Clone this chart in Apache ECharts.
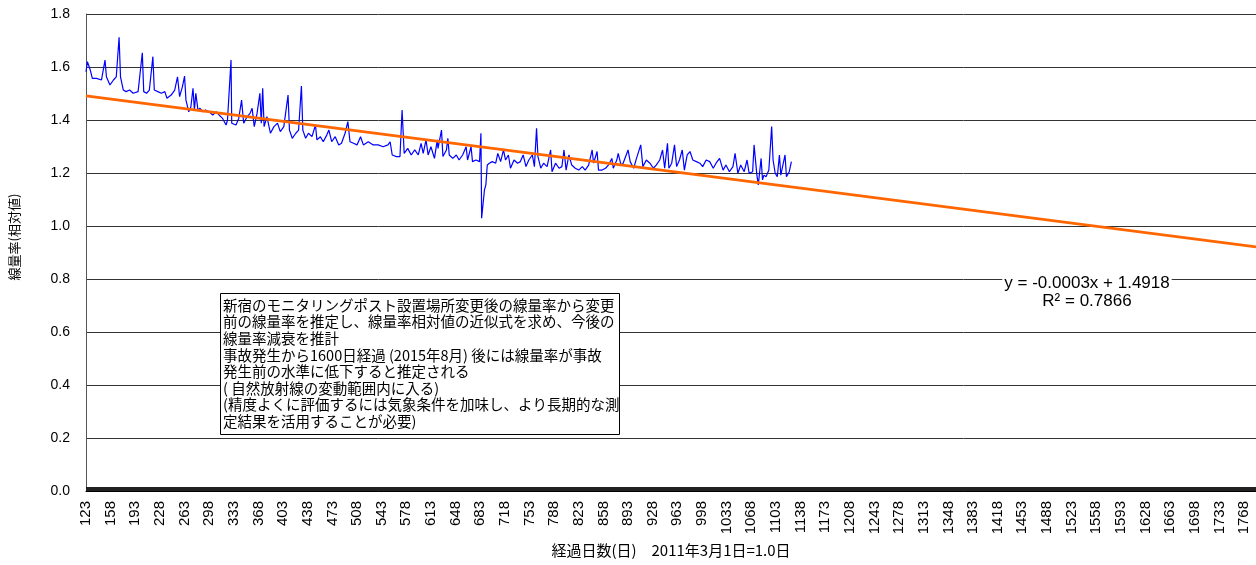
<!DOCTYPE html>
<html>
<head>
<meta charset="utf-8">
<script src="https://cdn.jsdelivr.net/npm/echarts@6/dist/echarts.min.js"></script>
<style>
  html, body { margin: 0; padding: 0; background: #fff; }
  #chart { width: 1256px; height: 565px; }
</style>
</head>
<body>
<div id="chart"></div>
<script>
// Elapsed-day category range (day 1 = 2011-03-01) and label spacing
const FIRST_DAY = 123;
const LAST_DAY = 1785;
const LABEL_STEP = 35;

// Relative dose-rate readings (day, value)
const days = [123,125,129,132,138,145,150,152,157,162,166,170,172,176,180,185,190,197,203,205,
  209,213,218,220,225,230,235,238,244,249,253,256,260,263,265,269,272,275,277,279,
  282,285,289,293,298,303,308,312,317,322,324,329,330,336,340,344,347,352,356,359,
  362,366,370,372,374,376,380,385,390,395,399,404,410,412,416,421,425,429,431,435,
  439,444,449,451,456,460,465,468,472,477,482,486,491,495,498,503,508,513,517,524,
  531,538,545,552,555,558,564,569,572,575,580,585,590,595,599,602,606,609,613,618,
  622,623,628,630,635,637,639,644,649,653,658,663,665,670,672,677,682,684,685,689,
  691,693,696,700,705,708,712,716,719,723,726,731,736,740,744,748,752,757,760,763,
  765,769,773,778,783,785,790,795,799,802,805,809,813,818,823,828,832,837,842,844,
  849,851,856,861,865,870,872,877,879,883,886,893,896,901,905,911,914,919,924,929,
  933,938,942,945,949,951,955,959,962,966,970,973,977,981,985,990,995,999,1004,1009,
  1014,1018,1023,1028,1032,1037,1042,1045,1049,1053,1058,1062,1065,1070,1072,1076,1078,1082,1084,1086,
  1089,1093,1097,1099,1102,1105,1108,1110,1112,1116,1118,1122,1125];
const rates = [1.582,1.620,1.589,1.557,1.557,1.551,1.626,1.563,1.532,1.551,
  1.563,1.712,1.563,1.513,1.507,1.513,1.501,1.507,1.654,1.507,
  1.501,1.513,1.639,1.513,1.507,1.501,1.507,1.482,1.494,1.513,
  1.563,1.488,1.526,1.566,1.475,1.431,1.450,1.520,1.438,1.501,
  1.438,1.444,1.431,1.438,1.431,1.419,1.431,1.419,1.406,1.381,
  1.400,1.626,1.388,1.381,1.406,1.475,1.388,1.413,1.425,1.444,
  1.375,1.425,1.501,1.388,1.520,1.375,1.413,1.350,1.375,1.388,
  1.356,1.375,1.494,1.362,1.331,1.350,1.362,1.528,1.362,1.331,
  1.350,1.337,1.381,1.325,1.337,1.318,1.343,1.362,1.318,1.337,
  1.306,1.312,1.350,1.394,1.318,1.312,1.306,1.337,1.306,1.318,
  1.306,1.306,1.299,1.306,1.318,1.268,1.262,1.262,1.438,1.274,
  1.293,1.268,1.287,1.268,1.312,1.274,1.325,1.268,1.299,1.255,
  1.325,1.293,1.362,1.262,1.287,1.331,1.268,1.255,1.268,1.249,
  1.268,1.299,1.249,1.299,1.243,1.249,1.243,1.350,1.029,1.136,
  1.155,1.230,1.237,1.243,1.237,1.274,1.243,1.287,1.249,1.268,
  1.218,1.249,1.237,1.243,1.268,1.224,1.249,1.268,1.224,1.369,
  1.262,1.218,1.237,1.224,1.287,1.205,1.237,1.218,1.224,1.287,
  1.211,1.268,1.230,1.218,1.211,1.224,1.211,1.230,1.287,1.237,
  1.281,1.211,1.211,1.218,1.230,1.255,1.218,1.249,1.274,1.230,
  1.237,1.287,1.243,1.218,1.255,1.306,1.224,1.249,1.237,1.218,
  1.230,1.249,1.287,1.218,1.312,1.218,1.237,1.306,1.224,1.249,
  1.287,1.211,1.268,1.281,1.249,1.243,1.237,1.224,1.249,1.243,
  1.218,1.237,1.255,1.211,1.230,1.205,1.224,1.274,1.199,1.230,
  1.205,1.249,1.199,1.205,1.306,1.192,1.155,1.255,1.174,1.192,
  1.186,1.211,1.375,1.249,1.199,1.186,1.268,1.192,1.199,1.268,
  1.186,1.205,1.243];

// Linear approximation (x = category index, starting at 1)
const TREND_SLOPE = -0.000343;
const TREND_INTERCEPT = 1.4918;
const TREND_R2 = 0.7866;

// Value axis range
const Y_MIN = 0;
const Y_MAX = 1.8;
const Y_STEP = 0.2;

const X_TITLE = '経過日数(日)　2011年3月1日=1.0日';
const Y_TITLE = '線量率(相対値)';
const NOTE_LINES = [
  '新宿のモニタリングポスト設置場所変更後の線量率から変更',
  '前の線量率を推定し、線量率相対値の近似式を求め、今後の',
  '線量率減衰を推計',
  '事故発生から1600日経過 (2015年8月) 後には線量率が事故',
  '発生前の水準に低下すると推定される',
  '( 自然放射線の変動範囲内に入る)',
  '(精度よくに評価するには気象条件を加味し、より長期的な測',
  '定結果を活用することが必要)'
];

const categories = [];
for (let d = FIRST_DAY; d <= LAST_DAY; d++) categories.push(String(d));

const rateData = days.map((d, i) => [d - FIRST_DAY, rates[i]]);
const trendAt = idx => TREND_INTERCEPT + TREND_SLOPE * (idx + 1);
const lastIdx = categories.length - 1;
const trendData = [[0, trendAt(0)], [lastIdx, trendAt(lastIdx)]];

const sign = TREND_SLOPE < 0 ? '-' : '';
const eqText = 'y = ' + sign + Math.abs(TREND_SLOPE).toFixed(4) + 'x + ' + TREND_INTERCEPT.toFixed(4)
  + '\nR² = ' + TREND_R2.toFixed(4);

const LATIN = '"Liberation Sans", Arial, sans-serif';
const CJK = '"Noto Sans CJK JP", sans-serif';

const chart = echarts.init(document.getElementById('chart'), null, { renderer: 'canvas' });
chart.setOption({
  animation: false,
  backgroundColor: '#ffffff',
  grid: { left: 86, top: 14, width: 1177, height: 477, containLabel: false },
  xAxis: {
    type: 'category',
    data: categories,
    boundaryGap: false,
    axisLine: { show: true, lineStyle: { color: '#000', width: 1 } },
    axisTick: { show: true, interval: 0, inside: true, length: 4, lineStyle: { color: '#222', width: 1 } },
    axisLabel: {
      interval: LABEL_STEP - 1,
      rotate: 90,
      margin: 10,
      color: '#000',
      fontFamily: '"Liberation Sans Narrow", "Liberation Sans", Arial, sans-serif',
      fontSize: 15
    },
    splitLine: { show: false }
  },
  yAxis: {
    type: 'value',
    min: Y_MIN,
    max: Y_MAX,
    interval: Y_STEP,
    axisLine: { show: true, lineStyle: { color: '#555', width: 1 } },
    axisTick: { show: false },
    axisLabel: {
      margin: 16,
      color: '#000',
      fontFamily: LATIN,
      fontSize: 14,
      formatter: v => v.toFixed(1)
    },
    splitLine: { show: true, lineStyle: { color: '#333', width: 1 } }
  },
  series: [
    {
      name: '線量率相対値',
      type: 'line',
      data: rateData,
      showSymbol: false,
      lineStyle: { color: '#0000ff', width: 1.2 },
      z: 3
    },
    {
      name: '近似直線',
      type: 'line',
      data: trendData,
      showSymbol: false,
      lineStyle: { color: '#ff6600', width: 2.8 },
      z: 4
    }
  ],
  graphic: [
    {
      type: 'text', x: 14, y: 237, rotation: Math.PI / 2,
      style: { text: Y_TITLE, font: '13px ' + CJK, fill: '#000', align: 'center', verticalAlign: 'middle' }
    },
    {
      type: 'text', x: 671, y: 550,
      style: { text: X_TITLE, font: '15px ' + CJK, fill: '#000', align: 'center', verticalAlign: 'middle' }
    },
    {
      type: 'rect', z: 10,
      shape: { x: 220.5, y: 293.5, width: 399, height: 141 },
      style: { fill: '#fff', stroke: '#000', lineWidth: 1 }
    },
    {
      type: 'text', z: 11, x: 223, y: 297,
      style: { text: NOTE_LINES.join('\n'), font: '14.5px ' + CJK, fill: '#000', lineHeight: 16.6, align: 'left', verticalAlign: 'top' }
    },
    {
      type: 'text', z: 11, x: 1087, y: 274,
      style: { text: eqText, font: '17px ' + LATIN, fill: '#000', lineHeight: 18.4, align: 'center', verticalAlign: 'top', backgroundColor: '#fff', padding: [0, 2] }
    }
  ]
});
</script>
</body>
</html>
